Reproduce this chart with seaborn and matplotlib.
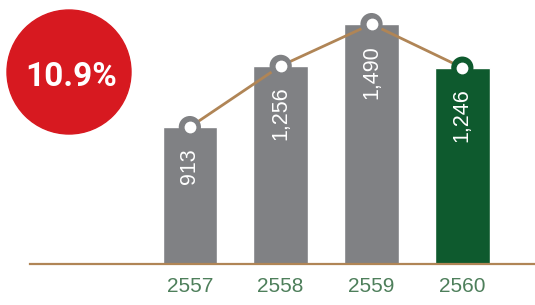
import matplotlib
matplotlib.use("Agg")
import matplotlib.pyplot as plt
from matplotlib.patches import Circle
import seaborn as sns

# data
years = ["2557", "2558", "2559", "2560"]
values = [913, 1256, 1490, 1246]
value_labels = ["913", "1,256", "1,490", "1,246"]
growth_label = "10.9%"

grey = "#808184"
green = "#0E5A2E"
brown = "#B08556"
red = "#D71920"
year_color = "#4E7F5B"
bar_colors = [grey, grey, grey, green]

sns.set_style("white")
plt.rcParams["font.family"] = ["Liberation Sans", "DejaVu Sans"]

fig = plt.figure(figsize=(5.35, 3.05), dpi=100)
ax = fig.add_axes([30 / 535, 41 / 305, 505 / 535, 264 / 305])

sns.barplot(x=years, y=values, hue=years, palette=bar_colors, legend=False,
            width=0.6, saturation=1, ax=ax, zorder=1)

# connecting line + ring markers on bar tops
xs = list(range(len(years)))
ax.plot(xs, values, color=brown, lw=2, zorder=2)
ax.scatter(xs, values, s=16 ** 2, c=bar_colors, zorder=3, linewidths=0)
ax.scatter(xs, values, s=8.5 ** 2, c="white", zorder=4, linewidths=0)

# value labels inside bars
for x, v, lab in zip(xs, values, value_labels):
    ax.annotate(lab, (x, v), xytext=(0, -15), textcoords="offset points",
                rotation=90, ha="center", va="top", color="white", fontsize=15.5)

ax.set_xlim(-1.76, 3.8)
ax.set_ylim(146, 1625)
ax.set_yticks([])
ax.set_xlabel("")
ax.set_ylabel("")
for s in ["top", "right", "left"]:
    ax.spines[s].set_visible(False)
ax.spines["bottom"].set_color(brown)
ax.spines["bottom"].set_linewidth(1.6)
ax.tick_params(axis="x", length=0, pad=9, labelsize=15, labelcolor=year_color)

# red growth badge
badge = Circle((0.69, 2.33), 0.62, transform=fig.dpi_scale_trans,
               color=red, zorder=5)
fig.patches.append(badge)
fig.text(0.715 / 5.35, 2.28 / 3.05, growth_label, color="white", fontsize=24,
         fontweight="bold", ha="center", va="center",
         family=["Roboto", "DejaVu Sans"], zorder=6)

fig.savefig("out.png", dpi=100)
